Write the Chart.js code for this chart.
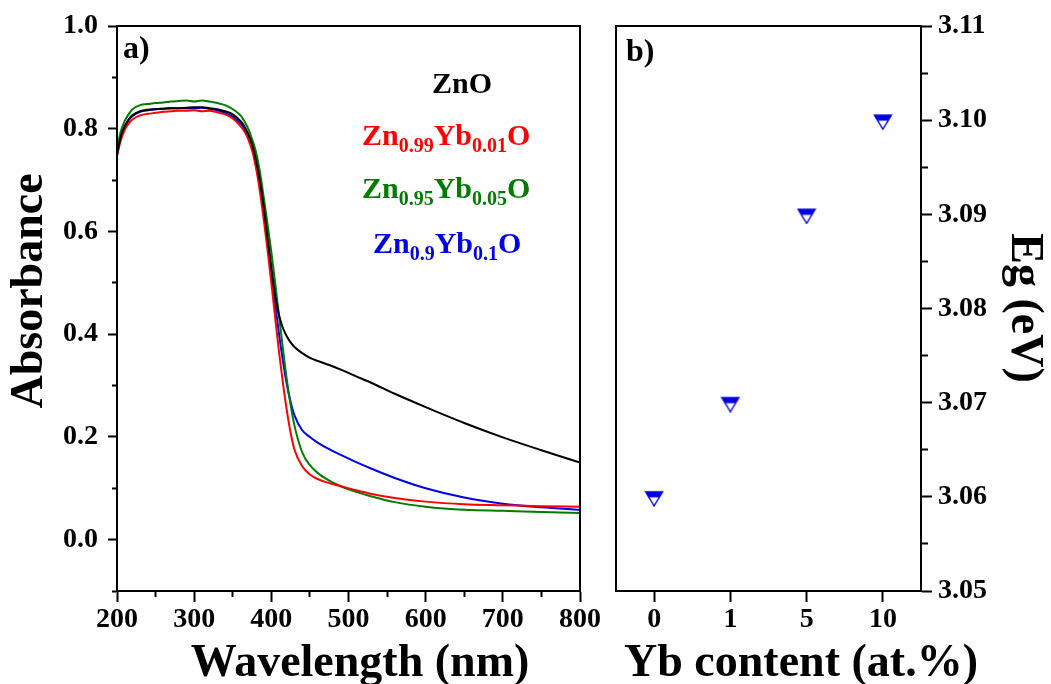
<!DOCTYPE html>
<html>
<head>
<meta charset="utf-8">
<script src="https://cdn.jsdelivr.net/npm/chart.js@4.4.1/dist/chart.umd.min.js"></script>
<style>
  html, body { margin: 0; padding: 0; background: #ffffff; }
  body { width: 1051px; height: 684px; position: relative; overflow: hidden; }
  #c1 { position: absolute; left: 0; top: 0; }
  #c2 { position: absolute; left: 595px; top: 0; }
</style>
</head>
<body>
<canvas id="c1" width="600" height="684"></canvas>
<canvas id="c2" width="456" height="684"></canvas>
<script>
// ---------- data: panel a) ----------
const wavelength = [200,205,210,215,220,230,240,250,260,270,280,290,300,310,320,330,340,350,360,365,370,375,380,385,390,395,400,405,410,415,420,425,430,440,450,460,475,490,510,530,560,600,650,700,750,800];
const absZnO = [.750,.785,.805,.818,.826,.834,.837,.838,.839,.840,.840,.841,.842,.842,.840,.838,.834,.828,.815,.805,.790,.770,.740,.700,.650,.590,.530,.475,.437,.412,.396,.384,.375,.363,.354,.348,.340,.331,.318,.305,.284,.258,.227,.199,.174,.150];
const absYb001 = [.748,.778,.798,.810,.818,.826,.829,.831,.833,.834,.835,.835,.836,.834,.835,.832,.828,.820,.805,.795,.780,.758,.725,.680,.625,.565,.500,.432,.365,.305,.252,.208,.175,.143,.127,.118,.110,.104,.096,.089,.081,.074,.069,.067,.065,.064];
const absYb005 = [.760,.795,.815,.828,.838,.846,.848,.850,.851,.853,.854,.855,.853,.855,.853,.850,.846,.838,.826,.815,.800,.780,.755,.718,.668,.615,.560,.500,.435,.372,.312,.262,.222,.170,.145,.130,.115,.104,.093,.084,.073,.064,.058,.056,.054,.052];
const absYb010 = [.748,.783,.803,.816,.825,.833,.836,.838,.839,.840,.840,.840,.840,.841,.839,.836,.831,.823,.810,.800,.785,.764,.732,.690,.637,.578,.518,.458,.400,.348,.303,.268,.242,.213,.200,.189,.176,.165,.151,.138,.120,.100,.082,.070,.063,.058];
const seriesColors = ['#000000', '#ff0000', '#007a00', '#0000e6'];
// legend labels as [text, isSubscript] parts
const legendZnO = [['ZnO', false]];
const legendYb001 = [['Zn', false], ['0.99', true], ['Yb', false], ['0.01', true], ['O', false]];
const legendYb005 = [['Zn', false], ['0.95', true], ['Yb', false], ['0.05', true], ['O', false]];
const legendYb010 = [['Zn', false], ['0.9', true], ['Yb', false], ['0.1', true], ['O', false]];

// ---------- data: panel b) ----------
const ybContent = ['0', '1', '5', '10'];
const bandGap = [3.06, 3.07, 3.09, 3.10];

const FONT = '"Liberation Serif", "Times New Roman", serif';

function pts(xs, ys) { return xs.map((x, i) => ({ x: x, y: ys[i] })); }

// half-filled down triangle marker
function makeMarker(color) {
  const c = document.createElement('canvas');
  c.width = 20; c.height = 20;
  const g = c.getContext('2d');
  const path = () => { g.beginPath(); g.moveTo(1.5, 5); g.lineTo(18.5, 5); g.lineTo(10, 19); g.closePath(); };
  g.save(); path(); g.clip(); g.fillStyle = color; g.fillRect(0, 0, 20, 10.5); g.restore();
  path(); g.strokeStyle = color; g.lineWidth = 1.4; g.lineJoin = 'miter'; g.stroke();
  return c;
}

const framePlugin = {
  id: 'frame',
  afterDraw(chart) {
    const { ctx, chartArea: a } = chart;
    ctx.save();
    ctx.strokeStyle = '#000'; ctx.lineWidth = 2;
    ctx.strokeRect(a.left, a.top, a.right - a.left, a.bottom - a.top);
    ctx.restore();
  }
};

function drawRich(ctx, parts, x, y, color) {
  ctx.save();
  ctx.fillStyle = color; ctx.textAlign = 'left'; ctx.textBaseline = 'alphabetic';
  let cx = x;
  for (const [t, sub] of parts) {
    ctx.font = sub ? 'bold 20px ' + FONT : 'bold 30px ' + FONT;
    ctx.fillText(t, cx, sub ? y + 7 : y);
    cx += ctx.measureText(t).width;
  }
  ctx.restore();
}

function drawText(ctx, text, x, y, font, rot, align, base) {
  ctx.save();
  ctx.translate(x, y); ctx.rotate(rot || 0);
  ctx.font = font; ctx.fillStyle = '#000';
  ctx.textAlign = align || 'center'; ctx.textBaseline = base || 'alphabetic';
  ctx.fillText(text, 0, 0);
  ctx.restore();
}

const textA = {
  id: 'textA',
  afterDraw(chart) {
    const ctx = chart.ctx;
    drawText(ctx, 'a)', 123, 58, 'bold 32px ' + FONT, 0, 'left');
    drawRich(ctx, legendZnO, 432, 93, seriesColors[0]);
    drawRich(ctx, legendYb001, 362, 145, seriesColors[1]);
    drawRich(ctx, legendYb005, 362, 198, seriesColors[2]);
    drawRich(ctx, legendYb010, 373, 253, seriesColors[3]);
    drawText(ctx, 'Absorbance', 30, 291, 'bold 46px ' + FONT, -Math.PI / 2, 'center', 'middle');
    drawText(ctx, 'Wavelength (nm)', 360, 676, 'bold 46px ' + FONT, 0, 'center');
  }
};

const textB = {
  id: 'textB',
  afterDraw(chart) {
    const ctx = chart.ctx;
    drawText(ctx, 'b)', 31, 61, 'bold 32px ' + FONT, 0, 'left');
    drawText(ctx, 'Yb content (at.%)', 206, 676, 'bold 46px ' + FONT, 0, 'center');
    drawText(ctx, 'Eg (eV)', 429, 308, 'bold 46px ' + FONT, Math.PI / 2, 'center', 'middle');
  }
};

const tickFont = { family: FONT, size: 28, weight: 'bold' };

const lineDs = (label, ys, color) => ({
  label: label, data: pts(wavelength, ys), borderColor: color, backgroundColor: color,
  borderWidth: 2, pointRadius: 0, cubicInterpolationMode: 'monotone', fill: false
});

new Chart(document.getElementById('c1'), {
  type: 'line',
  data: {
    datasets: [
      lineDs('ZnO', absZnO, seriesColors[0]),
      lineDs('Zn0.99Yb0.01O', absYb001, seriesColors[1]),
      lineDs('Zn0.95Yb0.05O', absYb005, seriesColors[2]),
      lineDs('Zn0.9Yb0.1O', absYb010, seriesColors[3])
    ]
  },
  options: {
    responsive: false, animation: false, devicePixelRatio: 1,
    layout: { padding: { top: 26, right: 20, bottom: 0, left: 0 } },
    plugins: { legend: { display: false }, tooltip: { enabled: false } },
    scales: {
      x: {
        type: 'linear', position: 'bottom', min: 200, max: 800,
        ticks: {
          stepSize: 50, autoSkip: false, maxRotation: 0, minRotation: 0, padding: 1,
          color: '#000', font: tickFont,
          callback: v => (Math.round(v) % 100 === 0 ? String(Math.round(v)) : '')
        },
        grid: {
          drawOnChartArea: false, drawTicks: true, tickLength: 11, tickWidth: 2, tickColor: '#000',
          tickBorderDash: c => (c.tick && Math.round(c.tick.value) % 100 !== 0 ? [5, 100] : [])
        },
        border: { display: true, color: '#000', width: 2 },
        afterFit: s => { s.height = 93; s.paddingLeft = 0; s.paddingRight = 0; }
      },
      y: {
        type: 'linear', position: 'left', min: -0.1, max: 1.0,
        ticks: {
          stepSize: 0.1, autoSkip: false, padding: 10, color: '#000', font: tickFont,
          callback: v => { const k = Math.round(v * 10); return k % 2 === 0 ? (k / 10).toFixed(1) : ''; }
        },
        grid: {
          drawOnChartArea: false, drawTicks: true, tickLength: 9, tickWidth: 2, tickColor: '#000',
          tickBorderDash: c => (c.tick && Math.round(c.tick.value * 10) % 2 !== 0 ? [0, 4, 5, 100] : [])
        },
        border: { display: true, color: '#000', width: 2 },
        afterFit: s => { s.width = 117; s.paddingTop = 0; s.paddingBottom = 0; }
      }
    }
  },
  plugins: [framePlugin, textA]
});

const marker = makeMarker('#0000e6');

new Chart(document.getElementById('c2'), {
  type: 'line',
  data: {
    labels: ybContent,
    datasets: [{
      label: 'Eg', data: bandGap, showLine: false,
      pointStyle: marker, pointRadius: 9, borderColor: '#0000e6', backgroundColor: '#0000e6'
    }]
  },
  options: {
    responsive: false, animation: false, devicePixelRatio: 1,
    layout: { padding: { top: 26, right: 0, bottom: 0, left: 21 } },
    plugins: { legend: { display: false }, tooltip: { enabled: false } },
    scales: {
      x: {
        type: 'category', position: 'bottom', offset: true,
        ticks: { padding: 1, color: '#000', font: tickFont, maxRotation: 0, minRotation: 0, autoSkip: false },
        grid: { offset: false, drawOnChartArea: false, drawTicks: true, tickLength: 11, tickWidth: 2, tickColor: '#000' },
        border: { display: true, color: '#000', width: 2 },
        afterFit: s => { s.height = 93; s.paddingLeft = 0; s.paddingRight = 0; }
      },
      y: {
        type: 'linear', position: 'right', min: 3.05, max: 3.11,
        ticks: {
          stepSize: 0.005, autoSkip: false, padding: 6, color: '#000', font: tickFont,
          callback: v => { const k = Math.round(v * 1000); return k % 10 === 0 ? (k / 1000).toFixed(2) : ''; }
        },
        grid: {
          drawOnChartArea: false, drawTicks: true, tickLength: 11, tickWidth: 2, tickColor: '#000',
          tickBorderDash: c => (c.tick && Math.round(c.tick.value * 1000) % 10 !== 0 ? [6, 100] : [])
        },
        border: { display: true, color: '#000', width: 2 },
        afterFit: s => { s.width = 130; s.paddingTop = 0; s.paddingBottom = 0; }
      }
    }
  },
  plugins: [framePlugin, textB]
});
</script>
</body>
</html>
